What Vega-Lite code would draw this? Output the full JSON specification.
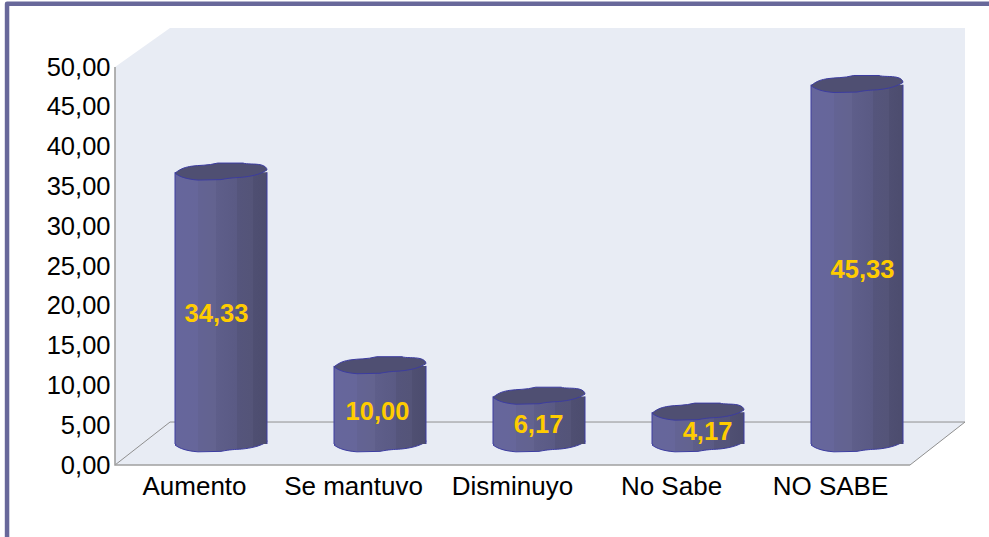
{
"$schema":"https://vega.github.io/schema/vega-lite/v6.json",
"width":989,"height":537,"padding":0,"autosize":{"type":"none"},"background":"white",
"config":{"view":{"stroke":null},"locale":{"number":{"decimal":",","thousands":".","grouping":[3],"currency":["",""]}},"font":"Liberation Sans"},
"datasets":{
"bars":[{"categoria":"Aumento","valor":34.33},{"categoria":"Se mantuvo","valor":10.00},{"categoria":"Disminuyo","valor":6.17},{"categoria":"No Sabe","valor":4.17},{"categoria":"NO SABE","valor":45.33}],
"wall":[{"u":0,"top":50,"bottom":0},{"u":0.346,"top":54.9,"bottom":0},{"u":5,"top":54.9,"bottom":0},{"u":5.346,"top":54.9,"bottom":5.4}],
"lines":[
{"part":"frame","seq":0,"u":-0.679,"v":-9.045},{"part":"frame","seq":1,"u":-0.679,"v":57.95},{"part":"frame","seq":2,"u":5.497,"v":57.95},
{"part":"front","seq":0,"u":0,"v":50},{"part":"front","seq":1,"u":0,"v":0},{"part":"front","seq":2,"u":5,"v":0},
{"part":"floor","seq":0,"u":0,"v":0},{"part":"floor","seq":1,"u":0.346,"v":5.4},{"part":"floor","seq":2,"u":5.346,"v":5.4},{"part":"floor","seq":3,"u":5,"v":0}
]},
"resolve":{"scale":{"x":"independent"},"axis":{"x":"independent","y":"independent"}},
"encoding":{"y":{"type":"quantitative","scale":{"domain":[-9.045,58.42],"nice":false,"zero":false},"axis":null}},
"layer":[
{"data":{"name":"wall"},"mark":{"type":"area","fill":"#e8ecf4","clip":false},
 "encoding":{"x":{"field":"u","type":"quantitative","scale":{"domain":[-0.7233,5.4969],"nice":false,"zero":false},"axis":null},"y":{"field":"top","type":"quantitative","axis":{"orient":"left","offset":-115,"values":[0,5,10,15,20,25,30,35,40,45,50],"format":".2f","domain":false,"ticks":false,"grid":false,"labelFontSize":25.5,"labelColor":"#000000","labelPadding":5,"title":null,"labelFont":"Liberation Sans","labelOverlap":false}},"y2":{"field":"bottom"}}},
{"data":{"name":"lines"},"transform":[{"filter":"datum.part=='floor'"}],"mark":{"type":"line","stroke":"#8f8f8f","strokeWidth":1},
 "encoding":{"x":{"field":"u","type":"quantitative","scale":{"domain":[-0.7233,5.4969],"nice":false,"zero":false},"axis":null},"y":{"field":"v","type":"quantitative"},"order":{"field":"seq"}}},
{"data":{"name":"lines"},"transform":[{"filter":"datum.part=='front'"}],"mark":{"type":"line","stroke":"#a0a0a0","strokeWidth":1.6},
 "encoding":{"x":{"field":"u","type":"quantitative","scale":{"domain":[-0.7233,5.4969],"nice":false,"zero":false},"axis":null},"y":{"field":"v","type":"quantitative"},"order":{"field":"seq"}}},
{"data":{"name":"lines"},"transform":[{"filter":"datum.part=='frame'"}],"mark":{"type":"line","stroke":"#68689a","strokeWidth":4.5,"strokeJoin":"round"},
 "encoding":{"x":{"field":"u","type":"quantitative","scale":{"domain":[-0.7233,5.4969],"nice":false,"zero":false},"axis":null},"y":{"field":"v","type":"quantitative"},"order":{"field":"seq"}}},
{"data":{"name":"bars"},"mark":{"type":"point","filled":true,"opacity":1,"size":8464,"xOffset":26.5,"yOffset":-21,"stroke":"#3c3ca0","strokeWidth":1,
  "shape":"M -1,0.02 C -0.85,-0.1 -0.75,-0.11 -0.65,-0.13 C -0.45,-0.16 -0.3,-0.14 -0.07,-0.2 L 0.48,-0.2 C 0.55,-0.17 0.75,-0.19 0.87,-0.16 C 0.95,-0.14 1,-0.1 1,-0.05 C 0.85,0.05 0.65,0.09 0.45,0.11 C 0.3,0.12 0.2,0.12 0 0.16 L -0.5,0.17 C -0.75,0.15 -0.9,0.1 -1,0.02 Z",
  "fill":{"gradient":"linear","x1":0,"y1":0,"x2":1,"y2":0,"stops":[{"offset":0,"color":"#66669c"},{"offset":0.25,"color":"#66669a"},{"offset":0.25,"color":"#636394"},{"offset":0.45,"color":"#63638f"},{"offset":0.45,"color":"#5e5e8a"},{"offset":0.67,"color":"#5a5a84"},{"offset":0.67,"color":"#55557c"},{"offset":0.85,"color":"#545478"},{"offset":0.85,"color":"#4f4f72"},{"offset":1,"color":"#4c4c6e"}]}},
 "encoding":{"x":{"field":"categoria","type":"nominal","sort":null,"scale":{"type":"band","domain":["Aumento","Se mantuvo","Disminuyo","No Sabe","NO SABE"],"range":[115,910],"paddingInner":0,"paddingOuter":0},"axis":{"orient":"bottom","offset":-72,"domain":false,"ticks":false,"grid":false,"labelAngle":0,"labelFontSize":26,"labelColor":"#000000","labelPadding":8,"title":null,"labelFont":"Liberation Sans"}},"y":{"datum":0}}},
{"data":{"name":"bars"},"mark":{"type":"bar","orient":"vertical","width":92,"xOffset":26.5,"yOffset":-19.5,"y2Offset":-21,
  "fill":{"gradient":"linear","x1":0,"y1":0,"x2":1,"y2":0,"stops":[{"offset":0,"color":"#66669c"},{"offset":0.25,"color":"#66669a"},{"offset":0.25,"color":"#636394"},{"offset":0.45,"color":"#63638f"},{"offset":0.45,"color":"#5e5e8a"},{"offset":0.67,"color":"#5a5a84"},{"offset":0.67,"color":"#55557c"},{"offset":0.85,"color":"#545478"},{"offset":0.85,"color":"#4f4f72"},{"offset":1,"color":"#4c4c6e"}]}},
 "encoding":{"x":{"field":"categoria","type":"nominal","sort":null,"scale":{"type":"band","domain":["Aumento","Se mantuvo","Disminuyo","No Sabe","NO SABE"],"range":[115,910],"paddingInner":0,"paddingOuter":0},"axis":null},"y":{"field":"valor","type":"quantitative"},"y2":{"datum":0}}},
{"data":{"name":"bars"},"mark":{"type":"rule","stroke":"#3c3ca0","strokeWidth":1,"xOffset":-19.5,"yOffset":-19.5,"y2Offset":-21},
 "encoding":{"x":{"field":"categoria","type":"nominal","sort":null,"scale":{"type":"band","domain":["Aumento","Se mantuvo","Disminuyo","No Sabe","NO SABE"],"range":[115,910],"paddingInner":0,"paddingOuter":0},"axis":null},"y":{"field":"valor","type":"quantitative"},"y2":{"datum":0}}},
{"data":{"name":"bars"},"mark":{"type":"rule","stroke":"#3c3ca0","strokeWidth":1,"xOffset":72.5,"yOffset":-19.5,"y2Offset":-21},
 "encoding":{"x":{"field":"categoria","type":"nominal","sort":null,"scale":{"type":"band","domain":["Aumento","Se mantuvo","Disminuyo","No Sabe","NO SABE"],"range":[115,910],"paddingInner":0,"paddingOuter":0},"axis":null},"y":{"field":"valor","type":"quantitative"},"y2":{"datum":0}}},
{"data":{"name":"bars"},"mark":{"type":"point","filled":true,"opacity":1,"fill":"#4f4f72","size":8464,"xOffset":26.5,"yOffset":-19.5,"stroke":"#3c3ca0","strokeWidth":1,
  "shape":"M -1,0.02 C -0.85,-0.1 -0.75,-0.11 -0.65,-0.13 C -0.45,-0.16 -0.3,-0.14 -0.07,-0.2 L 0.48,-0.2 C 0.55,-0.17 0.75,-0.19 0.87,-0.16 C 0.95,-0.14 1,-0.1 1,-0.05 C 0.85,0.05 0.65,0.09 0.45,0.11 C 0.3,0.12 0.2,0.12 0 0.16 L -0.5,0.17 C -0.75,0.15 -0.9,0.1 -1,0.02 Z"},
 "encoding":{"x":{"field":"categoria","type":"nominal","sort":null,"scale":{"type":"band","domain":["Aumento","Se mantuvo","Disminuyo","No Sabe","NO SABE"],"range":[115,910],"paddingInner":0,"paddingOuter":0},"axis":null},"y":{"field":"valor","type":"quantitative"}}},
{"data":{"name":"bars"},"transform":[{"filter":"datum.categoria=='Aumento'"}],"mark":{"type":"text","fontSize":25.5,"fontWeight":"bold","fill":"#ffcc00","baseline":"middle","xOffset":22,"yOffset":122},
 "encoding":{"x":{"field":"categoria","type":"nominal","sort":null,"scale":{"type":"band","domain":["Aumento","Se mantuvo","Disminuyo","No Sabe","NO SABE"],"range":[115,910],"paddingInner":0,"paddingOuter":0},"axis":null},"y":{"field":"valor","type":"quantitative"},"text":{"field":"valor","type":"quantitative","format":".2f"}}},
{"data":{"name":"bars"},"transform":[{"filter":"datum.categoria=='Se mantuvo'"}],"mark":{"type":"text","fontSize":25.5,"fontWeight":"bold","fill":"#ffcc00","baseline":"middle","xOffset":24,"yOffset":27},
 "encoding":{"x":{"field":"categoria","type":"nominal","sort":null,"scale":{"type":"band","domain":["Aumento","Se mantuvo","Disminuyo","No Sabe","NO SABE"],"range":[115,910],"paddingInner":0,"paddingOuter":0},"axis":null},"y":{"field":"valor","type":"quantitative"},"text":{"field":"valor","type":"quantitative","format":".2f"}}},
{"data":{"name":"bars"},"transform":[{"filter":"datum.categoria=='Disminuyo'"}],"mark":{"type":"text","fontSize":25.5,"fontWeight":"bold","fill":"#ffcc00","baseline":"middle","xOffset":26,"yOffset":9},
 "encoding":{"x":{"field":"categoria","type":"nominal","sort":null,"scale":{"type":"band","domain":["Aumento","Se mantuvo","Disminuyo","No Sabe","NO SABE"],"range":[115,910],"paddingInner":0,"paddingOuter":0},"axis":null},"y":{"field":"valor","type":"quantitative"},"text":{"field":"valor","type":"quantitative","format":".2f"}}},
{"data":{"name":"bars"},"transform":[{"filter":"datum.categoria=='No Sabe'"}],"mark":{"type":"text","fontSize":25.5,"fontWeight":"bold","fill":"#ffcc00","baseline":"middle","xOffset":36,"yOffset":0},
 "encoding":{"x":{"field":"categoria","type":"nominal","sort":null,"scale":{"type":"band","domain":["Aumento","Se mantuvo","Disminuyo","No Sabe","NO SABE"],"range":[115,910],"paddingInner":0,"paddingOuter":0},"axis":null},"y":{"field":"valor","type":"quantitative"},"text":{"field":"valor","type":"quantitative","format":".2f"}}},
{"data":{"name":"bars"},"transform":[{"filter":"datum.categoria=='NO SABE'"}],"mark":{"type":"text","fontSize":25.5,"fontWeight":"bold","fill":"#ffcc00","baseline":"middle","xOffset":32,"yOffset":166},
 "encoding":{"x":{"field":"categoria","type":"nominal","sort":null,"scale":{"type":"band","domain":["Aumento","Se mantuvo","Disminuyo","No Sabe","NO SABE"],"range":[115,910],"paddingInner":0,"paddingOuter":0},"axis":null},"y":{"field":"valor","type":"quantitative"},"text":{"field":"valor","type":"quantitative","format":".2f"}}}
]}
